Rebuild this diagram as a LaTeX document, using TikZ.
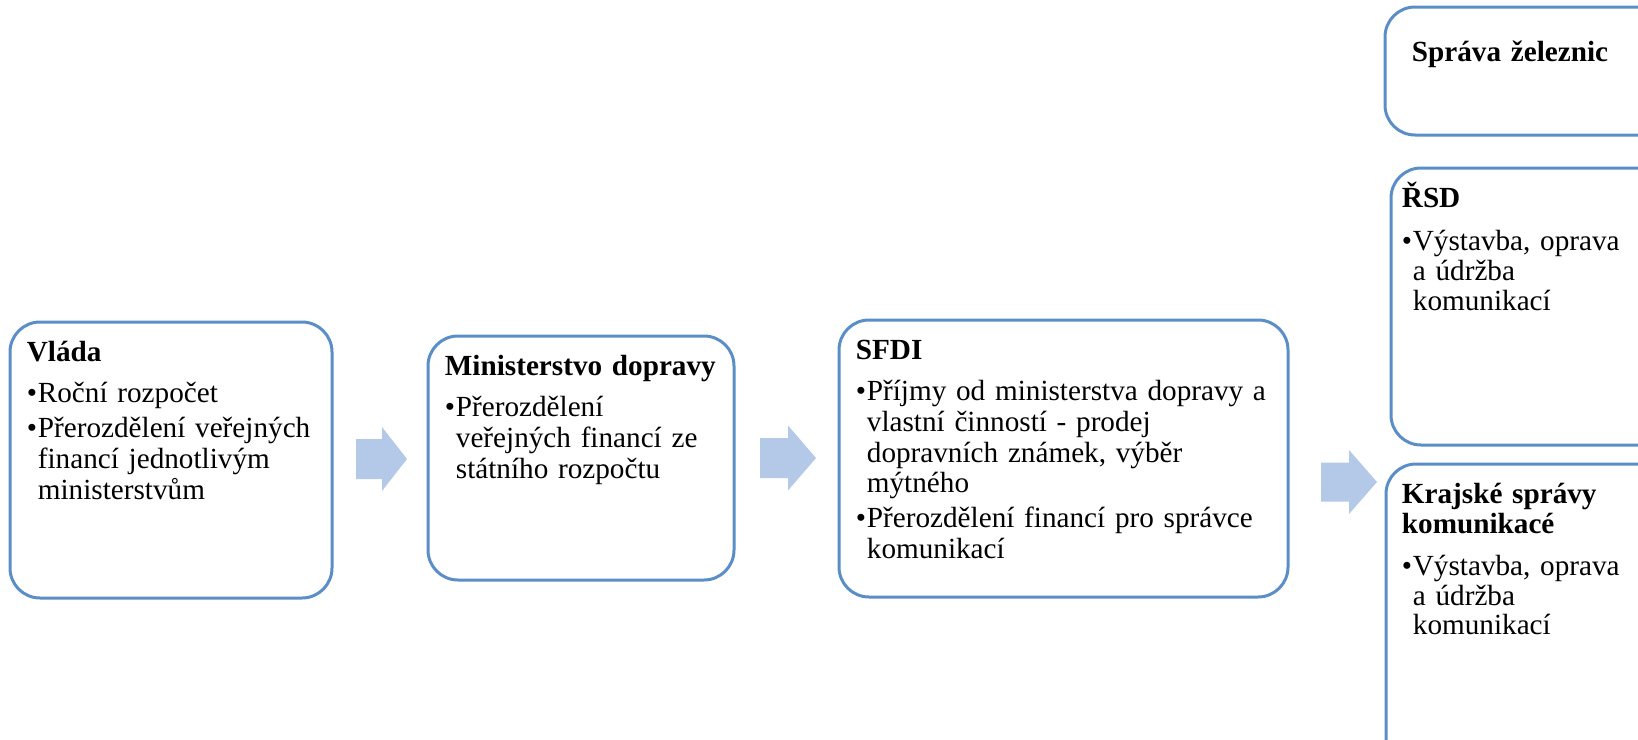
\documentclass[tikz,border=0pt]{standalone}
\usepackage{fontspec}
\setmainfont{Liberation Serif}
\usetikzlibrary{positioning}
\definecolor{panelblue}{HTML}{5B8EC7}
\definecolor{arrowblue}{HTML}{B4C8E8}
\newcommand{\bul}[1]{\par\hangindent=5.5pt\hangafter=1\noindent\makebox[5.5pt][l]{•}#1\par}
\newcommand{\ttl}[2][3.2pt]{\noindent{\bfseries #2}\par\vskip #1}
\tikzset{
  panel/.style={draw=panelblue,line width=1.5pt,rounded corners=15pt,inner sep=0pt},
  paneltext/.style={anchor=base west,inner sep=0pt,text width=#1,align=left,
    font=\fontsize{14.6}{15.3}\selectfont,
    execute at begin node={\setlength{\parskip}{2.2pt}}},
  paneltext/.default=200pt,
  sidetext/.style={paneltext,font=\fontsize{14.6}{14.9}\selectfont}
}
\begin{document}
\begin{tikzpicture}[x=0.5pt,y=-0.5pt]
    \clip (0,0) rectangle (1638,739);
    \fill[white] (0,0) rectangle (1638,739);

    % boxes
    \node[panel,minimum width=161pt,minimum height=138pt] (vlada) at (171,460) {};
    \node[panel,minimum width=153pt,minimum height=122pt] (mdcr) at (581,458) {};
    \node[panel,minimum width=224.5pt,minimum height=138.5pt] (sfdi) at (1063.5,458.5) {};
    \node[panel,minimum width=157.5pt,minimum height=64pt] (szdc) at (1542.5,71) {};
    \node[panel,minimum width=154.5pt,minimum height=138.5pt] (rsd) at (1545.5,306.5) {};
    \node[panel,minimum width=157pt,minimum height=153pt] (ksk) at (1543,617) {};

    % texts
    \node[paneltext] (vlada-t) at ([xshift=9pt,yshift=-20.5pt]vlada.north west) {%
      \ttl{Vláda}%
      \bul{Roční rozpočet}%
      \bul{Přerozdělení veřejných\newline financí jednotlivým\newline ministerstvům}};
    \node[paneltext] (mdcr-t) at ([xshift=9pt,yshift=-20.5pt]mdcr.north west) {%
      \ttl{Ministerstvo dopravy}%
      \bul{Přerozdělení\newline veřejných financí ze\newline státního rozpočtu}};
    \node[paneltext=220pt] (sfdi-t) at ([xshift=9pt,yshift=-20.5pt]sfdi.north west) {%
      \ttl{SFDI}%
      \bul{Příjmy od ministerstva dopravy a\newline vlastní činností - prodej\newline dopravních známek, výběr\newline mýtného}%
      \bul{Přerozdělení financí pro správce\newline komunikací}};
    \node[paneltext] (szdc-t) at ([xshift=14pt,yshift=-28pt]szdc.north west) {%
      \noindent{\bfseries Správa železnic}\par};
    \node[sidetext] (rsd-t) at ([xshift=6pt,yshift=-20.5pt]rsd.north west) {%
      \ttl[4.5pt]{ŘSD}%
      \bul{Výstavba, oprava\newline a údržba\newline komunikací}};
    \node[sidetext] (ksk-t) at ([xshift=8.5pt,yshift=-20.5pt]ksk.north west) {%
      \noindent{\bfseries\fontsize{14.6}{15.2}\selectfont Krajské správy\newline komunikacé\par}\vskip 3.6pt%
      \bul{Výstavba, oprava\newline a údržba\newline komunikací}};

    % block arrows: shaft start, head start, tip, centre y, shaft half, head half
    \foreach \xa/\xb/\xc/\yc/\hs/\hh in {356/382/407/459/20/32,760/788/816/458/20/32.5,1321/1349/1377/482/19.5/32} {
      \fill[arrowblue] (\xa,\yc-\hs) -- (\xb,\yc-\hs) -- (\xb,\yc-\hh) -- (\xc,\yc)
        -- (\xb,\yc+\hh) -- (\xb,\yc+\hs) -- (\xa,\yc+\hs) -- cycle;
    }
\end{tikzpicture}
\end{document}
